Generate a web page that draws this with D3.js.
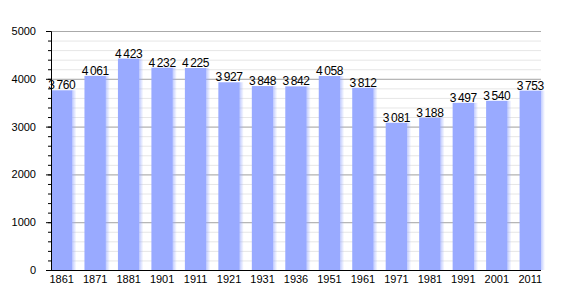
<!DOCTYPE html>
<html>
<head>
<meta charset="utf-8">
<script src="https://cdn.jsdelivr.net/npm/d3@7"></script>
<style>
  body { margin: 0; background: #fff; }
  svg { font-family: "Liberation Sans", Arial, sans-serif; }
</style>
</head>
<body>
<div id="chart"></div>
<script>
// Population by census year
const years = ['1861', '1871', '1881', '1901', '1911', '1921', '1931', '1936', '1951', '1961', '1971', '1981', '1991', '2001', '2011'];
const population = [3760, 4061, 4423, 4232, 4225, 3927, 3848, 3842, 4058, 3812, 3081, 3188, 3497, 3540, 3753];
const yTicks = [0, 1000, 2000, 3000, 4000, 5000];

const width = 570, height = 300;
const margin = { top: 31, right: 29, bottom: 30, left: 51 };
const chartWidth = width - margin.left - margin.right;
const chartHeight = height - margin.top - margin.bottom;

const svg = d3.select('#chart').append('svg')
    .attr('width', width)
    .attr('height', height);

const defs = svg.append('defs');
const shade = defs.append('linearGradient').attr('id', 'barShade');
shade.append('stop').attr('offset', '0%').attr('stop-color', '#99aaff').attr('stop-opacity', 0.6);
shade.append('stop').attr('offset', '100%').attr('stop-color', '#99aaff').attr('stop-opacity', 0);

const g = svg.append('g')
    .attr('transform', `translate(${margin.left},${margin.top})`);

const x = d3.scaleBand()
    .domain(years)
    .range([0, chartWidth])
    .paddingInner(0.36)
    .paddingOuter(0);

const y = d3.scaleLinear()
    .domain([0, 5000])
    .range([chartHeight, 0]);

// minor grid every 200
g.append('g')
    .call(d3.axisLeft(y).tickValues(d3.range(200, 5000, 200)).tickSize(-chartWidth).tickFormat(''))
    .call(s => s.select('.domain').remove())
    .selectAll('line').attr('stroke', '#e6e6e6');

// major grid
g.append('g')
    .call(d3.axisLeft(y).tickValues(yTicks.slice(1)).tickSize(-chartWidth).tickFormat(''))
    .call(s => s.select('.domain').remove())
    .selectAll('line').attr('stroke', '#aaaaaa');

// bars
const bars = g.selectAll('.bar')
    .data(years)
    .enter()
    .append('g');

bars.append('rect')
    .attr('x', (d, i) => x(d) + x.bandwidth())
    .attr('y', (d, i) => y(population[i]))
    .attr('width', 4)
    .attr('height', (d, i) => chartHeight - y(population[i]))
    .attr('fill', 'url(#barShade)');

bars.append('rect')
    .attr('x', d => x(d))
    .attr('y', (d, i) => y(population[i]))
    .attr('width', x.bandwidth())
    .attr('height', (d, i) => chartHeight - y(population[i]))
    .attr('fill', '#99aaff');

const fmt = d3.formatLocale({ decimal: '.', thousands: '\u2009', grouping: [3], currency: ['', ''] }).format(',d');

bars.append('text')
    .attr('x', d => x(d) + x.bandwidth() / 2)
    .attr('y', (d, i) => y(population[i]) - 1)
    .attr('text-anchor', 'middle')
    .style('font-size', '12px')
    .style('letter-spacing', '-0.4px')
    .attr('fill', '#000')
    .text((d, i) => fmt(population[i]));

// minor y ticks
g.append('g')
    .call(d3.axisLeft(y).tickValues(d3.range(200, 5000, 200)).tickSize(3).tickFormat(''))
    .call(s => s.select('.domain').remove());

// y axis
g.append('g')
    .call(d3.axisLeft(y).tickValues(yTicks).tickSize(5).tickPadding(10).tickFormat(d3.format('d')))
    .call(s => s.selectAll('text').style('font-size', '11px').style('font-family', '"Liberation Sans", Arial, sans-serif'));

// x axis
g.append('g')
    .attr('transform', `translate(0,${chartHeight})`)
    .call(d3.axisBottom(x).tickSize(0).tickPadding(5))
    .call(s => s.select('.domain').attr('d', `M0,0.5H${chartWidth}`))
    .call(s => s.selectAll('text').style('font-size', '11px').style('font-family', '"Liberation Sans", Arial, sans-serif'));
</script>
</body>
</html>
